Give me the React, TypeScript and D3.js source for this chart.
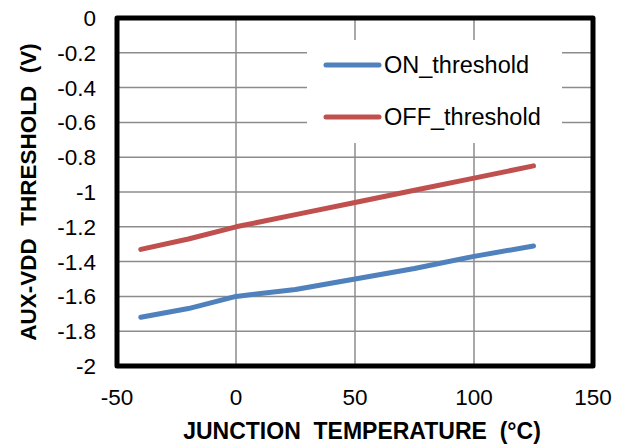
import { useRef, useEffect } from 'react';
import * as d3 from 'd3';

const temps = [-40, -20, 0, 25, 50, 75, 100, 125];
const onThreshold = [-1.72, -1.67, -1.6, -1.56, -1.5, -1.44, -1.37, -1.31];
const offThreshold = [-1.33, -1.27, -1.2, -1.13, -1.06, -0.99, -0.92, -0.85];
const xTicks = [-50, 0, 50, 100, 150];
const yTicks = [0, -0.2, -0.4, -0.6, -0.8, -1, -1.2, -1.4, -1.6, -1.8, -2];
const seriesNames = ['ON_threshold', 'OFF_threshold'];
const seriesColors = ['#4F81BD', '#C0504D'];

const W = 625;
const H = 445;
const margin = { top: 18, right: 32, bottom: 79, left: 117 };

export default function App() {
  const svgRef = useRef<SVGSVGElement>(null);

  useEffect(() => {
    const svg = d3.select(svgRef.current);
    if (!svg.node()) return;
    svg.selectAll('*').remove();

    const x = d3.scaleLinear().domain([-50, 150]).range([margin.left, W - margin.right]);
    const y = d3.scaleLinear().domain([-2, 0]).range([H - margin.bottom, margin.top]);
    const font = 'Arial, "Liberation Sans", sans-serif';

    const grid = svg.append('g');
    xTicks.slice(1, -1).forEach(t => {
      grid.append('line')
        .attr('x1', x(t)).attr('x2', x(t))
        .attr('y1', y(0)).attr('y2', y(-2))
        .attr('stroke', '#8c8c8c').attr('stroke-width', 1.5);
    });
    yTicks.slice(1, -1).forEach(t => {
      grid.append('line')
        .attr('x1', x(-50)).attr('x2', x(150))
        .attr('y1', y(t)).attr('y2', y(t))
        .attr('stroke', '#8c8c8c').attr('stroke-width', 1.5);
    });

    // legend box hides grid behind it
    svg.append('rect')
      .attr('x', 307).attr('y', 40).attr('width', 255).attr('height', 103)
      .attr('fill', 'white');

    const line = d3.line<number>()
      .x((_, i) => x(temps[i]))
      .y(d => y(d));

    [onThreshold, offThreshold].forEach((vals, i) => {
      svg.append('path')
        .datum(vals)
        .attr('d', line)
        .attr('fill', 'none')
        .attr('stroke', seriesColors[i])
        .attr('stroke-width', 5)
        .attr('stroke-linecap', 'round')
        .attr('stroke-linejoin', 'round');
    });

    // plot border
    svg.append('rect')
      .attr('x', x(-50)).attr('y', y(0))
      .attr('width', x(150) - x(-50)).attr('height', y(-2) - y(0))
      .attr('fill', 'none')
      .attr('stroke', 'black')
      .attr('stroke-width', 5)
      .attr('stroke-linejoin', 'round');

    // legend
    seriesNames.forEach((name, i) => {
      const ly = 65 + i * 52;
      svg.append('line')
        .attr('x1', 326).attr('x2', 379)
        .attr('y1', ly).attr('y2', ly)
        .attr('stroke', seriesColors[i])
        .attr('stroke-width', 5)
        .attr('stroke-linecap', 'round');
      svg.append('text')
        .attr('x', 384).attr('y', ly + 8)
        .style('font-family', font)
        .style('font-size', '23.5px')
        .style('fill', '#000')
        .text(name);
    });

    yTicks.forEach(t => {
      svg.append('text')
        .attr('x', 96).attr('y', y(t) + 8)
        .attr('text-anchor', 'end')
        .style('font-family', font)
        .style('font-size', '22.5px')
        .style('fill', '#000')
        .text(d3.format('')(t).replace('−', '-'));
    });

    xTicks.forEach(t => {
      svg.append('text')
        .attr('x', x(t)).attr('y', 405)
        .attr('text-anchor', 'middle')
        .style('font-family', font)
        .style('font-size', '22.5px')
        .style('fill', '#000')
        .text(d3.format('')(t).replace('−', '-'));
    });

    svg.append('text')
      .attr('x', 362).attr('y', 439)
      .attr('text-anchor', 'middle')
      .style('font-family', font)
      .style('font-size', '23px')
      .style('font-weight', 'bold')
      .style('white-space', 'pre')
      .text('JUNCTION  TEMPERATURE  (°C)');

    svg.append('text')
      .attr('transform', 'translate(36, 192) rotate(-90)')
      .attr('text-anchor', 'middle')
      .style('font-family', font)
      .style('font-size', '22.5px')
      .style('font-weight', 'bold')
      .style('white-space', 'pre')
      .text('AUX-VDD  THRESHOLD  (V)');
  }, []);

  return (
    <svg
      ref={svgRef}
      width={W}
      height={H}
      style={{ position: 'absolute', left: 0, top: 0, background: 'white' }}
    />
  );
}
